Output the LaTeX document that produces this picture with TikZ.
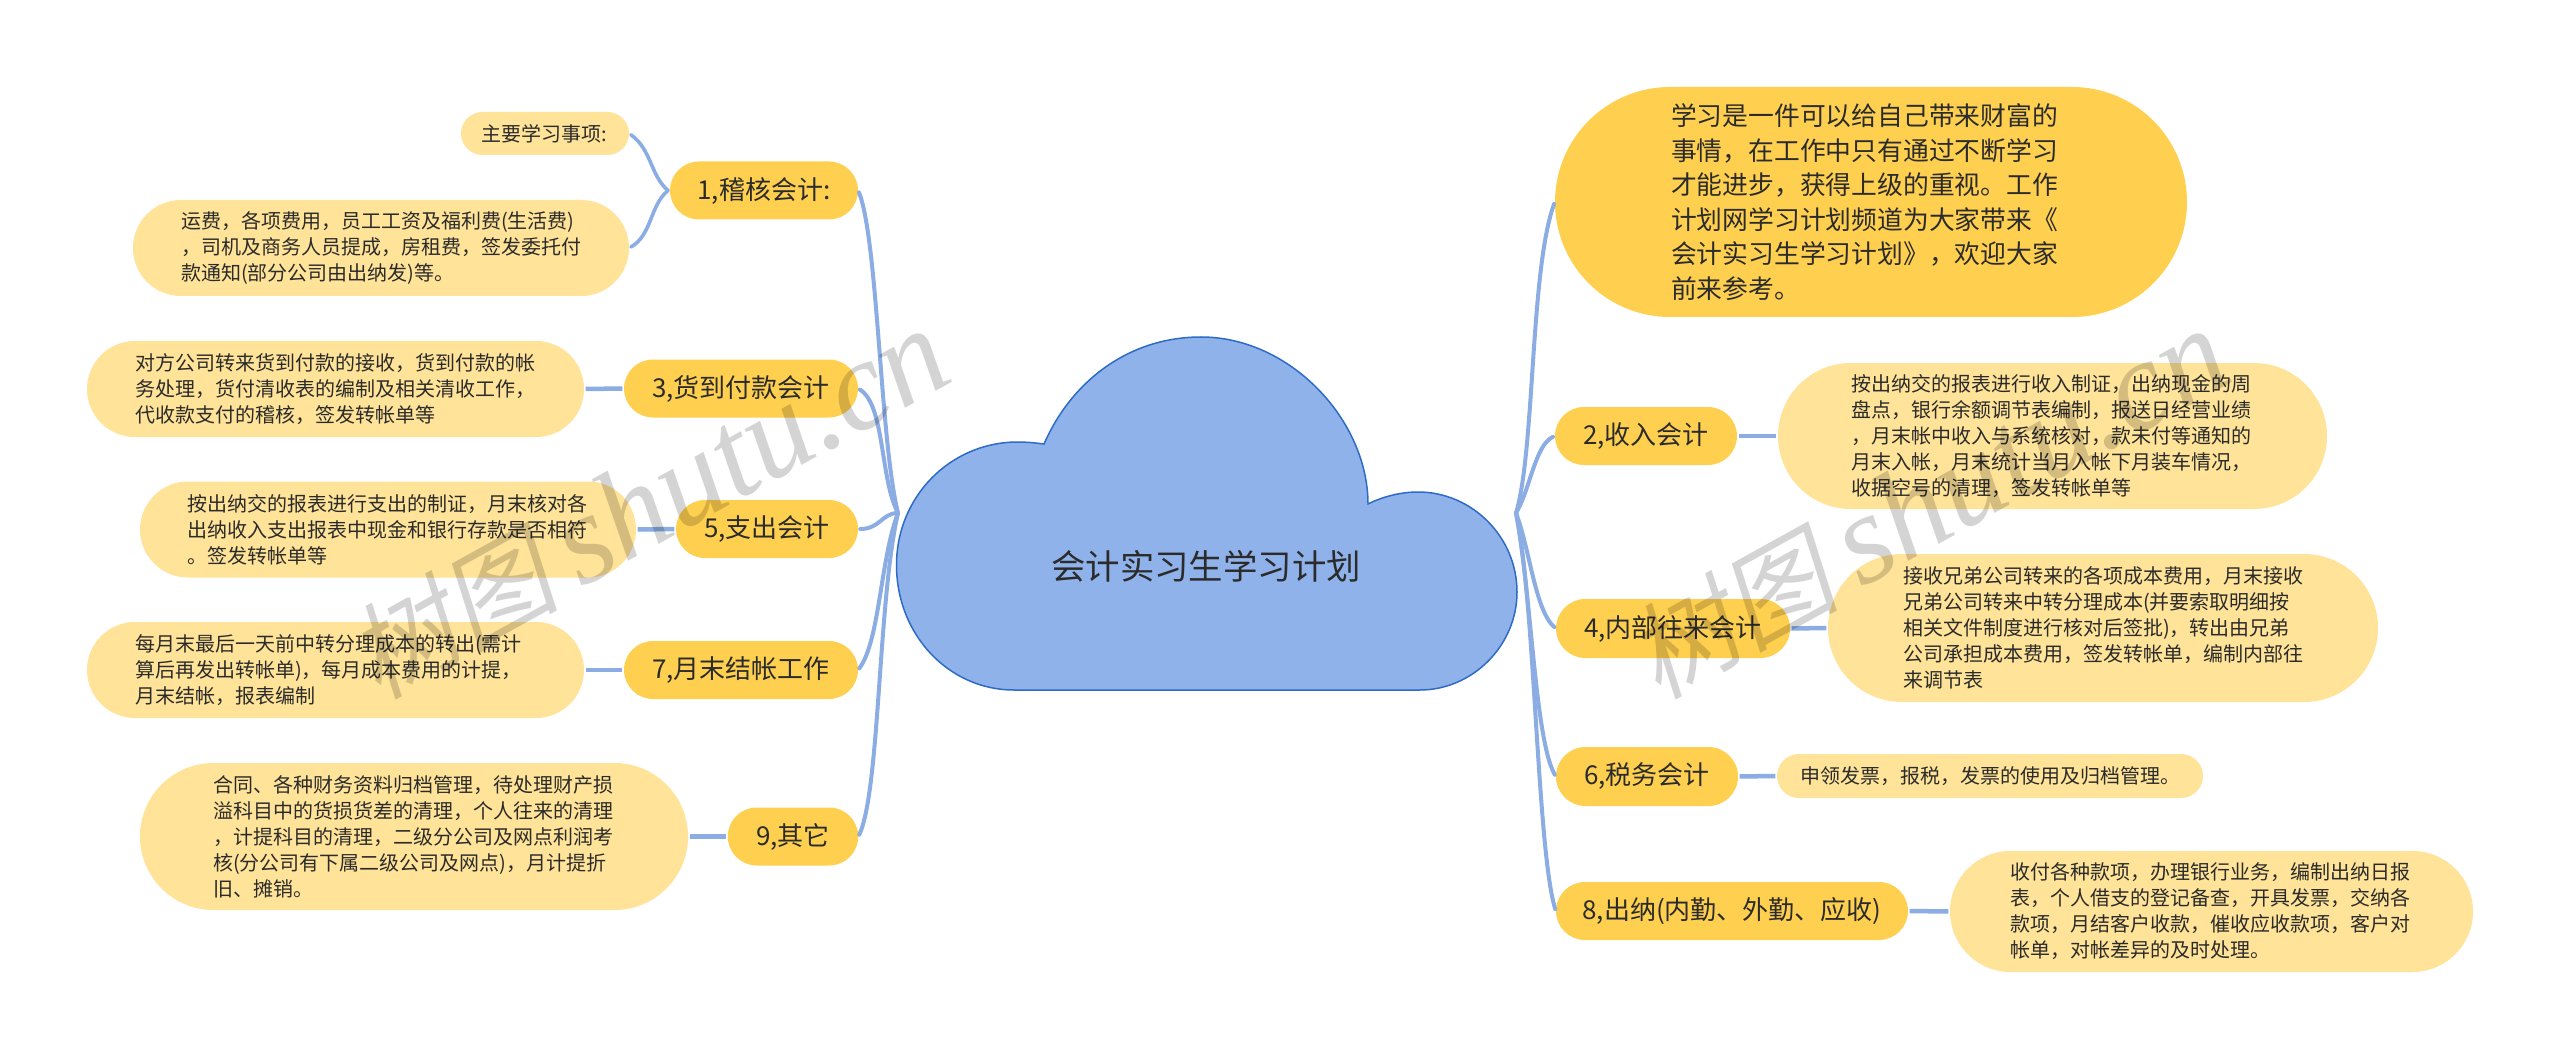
\documentclass[tikz,border=0pt]{standalone}
\usepackage{fontspec}
\setmainfont{Noto Sans CJK SC}
\newfontfamily\wmcjk[FakeSlant=0.2]{Noto Sans CJK SC}
\newfontfamily\wmlat[ItalicFont={Liberation Serif Italic}]{Liberation Serif}
\definecolor{leaffill}{HTML}{FFE398}
\definecolor{branchfill}{HTML}{FFD04F}
\definecolor{linkblue}{HTML}{8BADE3}
\definecolor{cloudfill}{HTML}{8FB2EB}
\definecolor{cloudedge}{HTML}{2E6BC6}
\definecolor{ink}{HTML}{2B2B2B}
\tikzset{
  pill/.style 2 args={inner sep=0pt,align=left,text=ink,minimum width=#1pt,minimum height=#2pt,rounded corners=#2*0.5pt},
  leaf/.style={fill=leaffill,font=\fontsize{20}{26}\selectfont},
  branch/.style={fill=branchfill,font=\fontsize{26}{32}\selectfont},
  intro/.style={fill=branchfill,font=\fontsize{25.8}{34.5}\selectfont},
  trunk/.style={draw=linkblue,line width=4pt,line cap=round,shorten >=2pt},
  twig/.style={draw=linkblue,line width=3.6pt,line cap=round,shorten >=2pt},
  stub/.style={draw=linkblue,line width=4.5pt,shorten >=1.5pt,shorten <=1.5pt},
  mark wm/.style={rotate=29,anchor=base,text=black,opacity=0.17,inner sep=0pt}
}
\newcommand{\wmtext}{{\fontsize{105}{118}\selectfont\wmcjk 树图}\kern22pt{\fontsize{128}{130}\selectfont\wmlat\itshape shutu.cn}}
\begin{document}
\begin{tikzpicture}[x=1pt,y=-1pt]
\useasboundingbox (0,0) rectangle (2560,1059);
\fill[white] (0,0) rectangle (2560,1059);
% cloud
\draw[fill=cloudfill,draw=cloudedge,line width=1.5pt,line join=miter]
 (1014,690) .. controls (949,690) and (896.5,635) .. (896.5,565)
 .. controls (896.5,497) and (950,442) .. (1018,442)
 .. controls (1027,442) and (1036,443) .. (1044,444)
 .. controls (1072,380) and (1130,337) .. (1201,337)
 .. controls (1290,337) and (1368,420) .. (1368,504)
 .. controls (1382,497) and (1400,492) .. (1418,492)
 .. controls (1472,492) and (1517,537) .. (1517,592)
 .. controls (1517,646) and (1472,690) .. (1420,690) -- cycle;
\node[text=ink,inner sep=0pt,font=\fontsize{34.4}{40}\selectfont] (title) at (1206,566) {会计实习生学习计划};
\coordinate (hubL) at (898,513);
\coordinate (hubR) at (1516,513);
% left branches
\node[pill={188}{58},branch] (n1) at (764,190.5) {1,稽核会计:};
\node[pill={168}{43},leaf,text width=128pt] (a1) at (545,133.5) {主要学习事项:};
\node[pill={496}{96},leaf,text width=400pt] (a2) at (381,248) {运费，各项费用，员工工资及福利费(生活费)\\，司机及商务人员提成，房租费，签发委托付\\款通知(部分公司由出纳发)等。};
\node[pill={234}{58},branch] (n3) at (741,388.5) {3,货到付款会计};
\node[pill={497}{96},leaf,text width=401pt] (a3) at (335.5,389) {对方公司转来货到付款的接收，货到付款的帐\\务处理，货付清收表的编制及相关清收工作，\\代收款支付的稽核，签发转帐单等};
\node[pill={182}{58},branch] (n5) at (767,529) {5,支出会计};
\node[pill={496}{96},leaf,text width=401pt] (a5) at (388,529.5) {按出纳交的报表进行支出的制证，月末核对各\\出纳收入支出报表中现金和银行存款是否相符\\。签发转帐单等};
\node[pill={234}{58},branch] (n7) at (741,670) {7,月末结帐工作};
\node[pill={497}{96},leaf,text width=401pt] (a7) at (335.5,670) {每月末最后一天前中转分理成本的转出(需计\\算后再发出转帐单)，每月成本费用的计提，\\月末结帐，报表编制};
\node[pill={130.5}{58},branch] (n9) at (793,836.5) {9,其它};
\node[pill={548}{147},leaf,text width=402pt] (a9) at (414,836.5) {合同、各种财务资料归档管理，待处理财产损\\溢科目中的货损货差的清理，个人往来的清理\\，计提科目的清理，二级分公司及网点利润考\\核(分公司有下属二级公司及网点)，月计提折\\旧、摊销。};
% right branches
\node[pill={632}{230},intro,text width=400pt] (n0) at (1871,202) {学习是一件可以给自己带来财富的\\事情，在工作中只有通过不断学习\\才能进步，获得上级的重视。工作\\计划网学习计划频道为大家带来《\\会计实习生学习计划》，欢迎大家\\前来参考。};
\node[pill={182}{58},branch] (n2) at (1646,436) {2,收入会计};
\node[pill={549}{146},leaf,text width=403pt] (a0) at (2052.5,436) {按出纳交的报表进行收入制证，出纳现金的周\\盘点，银行余额调节表编制，报送日经营业绩\\，月末帐中收入与系统核对，款未付等通知的\\月末入帐，月末统计当月入帐下月装车情况，\\收据空号的清理，签发转帐单等};
\node[pill={234}{59},branch] (n4) at (1673,628.5) {4,内部往来会计};
\node[pill={550}{148},leaf,text width=400pt] (a4) at (2103,628) {接收兄弟公司转来的各项成本费用，月末接收\\兄弟公司转来中转分理成本(并要索取明细按\\相关文件制度进行核对后签批)，转出由兄弟\\公司承担成本费用，签发转帐单，编制内部往\\来调节表};
\node[pill={182}{59},branch] (n6) at (1647,776.5) {6,税务会计};
\node[pill={426}{44},leaf,text width=380pt] (a6) at (1990,776) {申领发票，报税，发票的使用及归档管理。};
\node[pill={352}{58},branch] (n8) at (1732,911) {8,出纳(内勤、外勤、应收)};
\node[pill={523}{121},leaf,text width=403pt] (a8) at (2211.5,911.5) {收付各种款项，办理银行业务，编制出纳日报\\表，个人借支的登记备查，开具发票，交纳各\\款项，月结客户收款，催收应收款项，客户对\\帐单，对帐差异的及时处理。};
% connectors
\coordinate (fork1) at (668,190.5);
\draw[twig] (fork1) .. controls (650,175) and (652,150) .. (a1.east);
\draw[twig] (fork1) .. controls (650,205) and (652,235) .. (a2.east);
\draw[stub] (n3.west) -- (a3.east);
\draw[stub] (n5.west) -- (a5.east);
\draw[stub] (n7.west) -- (a7.east);
\draw[stub] (n9.west) -- (a9.east);
\draw[stub] (n2.east) -- (a0.west);
\draw[stub] (n4.east) -- (a4.west);
\draw[stub] (n6.east) -- (a6.west);
\draw[stub] (n8.east) -- (a8.west);
\draw[trunk] (hubL) .. controls (880,440) and (878,240) .. (n1.east);
\draw[trunk] (hubL) .. controls (880,480) and (885,405) .. (n3.east);
\draw[trunk] (hubL) .. controls (882,513) and (880,529) .. (n5.east);
\draw[trunk] (hubL) .. controls (880,560) and (880,640) .. (n7.east);
\draw[trunk] (hubL) .. controls (878,600) and (880,790) .. (n9.east);
\draw[trunk] (hubR) .. controls (1535,450) and (1530,270) .. (n0.west);
\draw[trunk] (hubR) .. controls (1530,490) and (1535,445) .. (n2.west);
\draw[trunk] (hubR) .. controls (1530,550) and (1535,610) .. (n4.west);
\draw[trunk] (hubR) .. controls (1532,600) and (1535,740) .. (n6.west);
\draw[trunk] (hubR) .. controls (1535,600) and (1537,850) .. (n8.west);
% watermark
\node[mark wm] (wm1) at (668,540) {\wmtext};
\node[mark wm] (wm2) at (1948,540) {\wmtext};
\end{tikzpicture}
\end{document}
